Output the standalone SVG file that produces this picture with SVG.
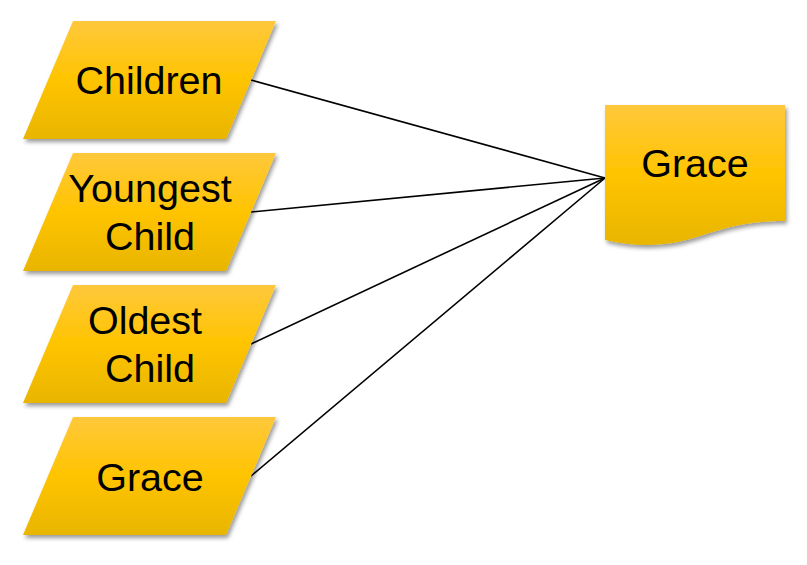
<svg xmlns="http://www.w3.org/2000/svg" width="807" height="565" viewBox="0 0 807 565">
<style>
.shape{fill:url(#g);filter:url(#sh)}
.t{font-family:"Liberation Sans",Arial,sans-serif;font-size:39.5px;fill:#000;text-anchor:middle}
.c{stroke:#000;stroke-width:1.6;fill:none}
</style>
<defs>
<linearGradient id="g" x1="0" y1="0" x2="0" y2="1">
<stop offset="0" stop-color="#FFC83C"/>
<stop offset="0.5" stop-color="#FFC400"/>
<stop offset="1" stop-color="#E8B500"/>
</linearGradient>
<filter id="sh" x="-10%" y="-10%" width="125%" height="130%">
<feDropShadow dx="2" dy="3" stdDeviation="2" flood-color="#000" flood-opacity="0.4"/>
</filter>
</defs>
<g id="connectors">
<line class="c" x1="251" y1="80" x2="605" y2="178"/>
<line class="c" x1="251" y1="212" x2="605" y2="178"/>
<line class="c" x1="251" y1="344" x2="605" y2="178"/>
<line class="c" x1="251" y1="476" x2="605" y2="178"/>
</g>
<g id="children">
<polygon class="shape" points="73,21 276,21 226,139 23,139"/>
<text class="t" x="149" y="94">Children</text>
</g>
<g id="youngest">
<polygon class="shape" points="73,153 276,153 226,271 23,271"/>
<text class="t" x="150" y="202">Youngest</text>
<text class="t" x="150" y="250">Child</text>
</g>
<g id="oldest">
<polygon class="shape" points="73,285 276,285 226,403 23,403"/>
<text class="t" x="145" y="334">Oldest</text>
<text class="t" x="150" y="382">Child</text>
</g>
<g id="grace-in">
<polygon class="shape" points="73,417 276,417 226,535 23,535"/>
<text class="t" x="150" y="491">Grace</text>
</g>
<g id="grace-doc">
<path class="shape" d="M605,105 H785 V221 C745,221 725,228 700,236 C670,246 640,248 605,240 Z"/>
<text class="t" x="695" y="177">Grace</text>
</g>
</svg>
